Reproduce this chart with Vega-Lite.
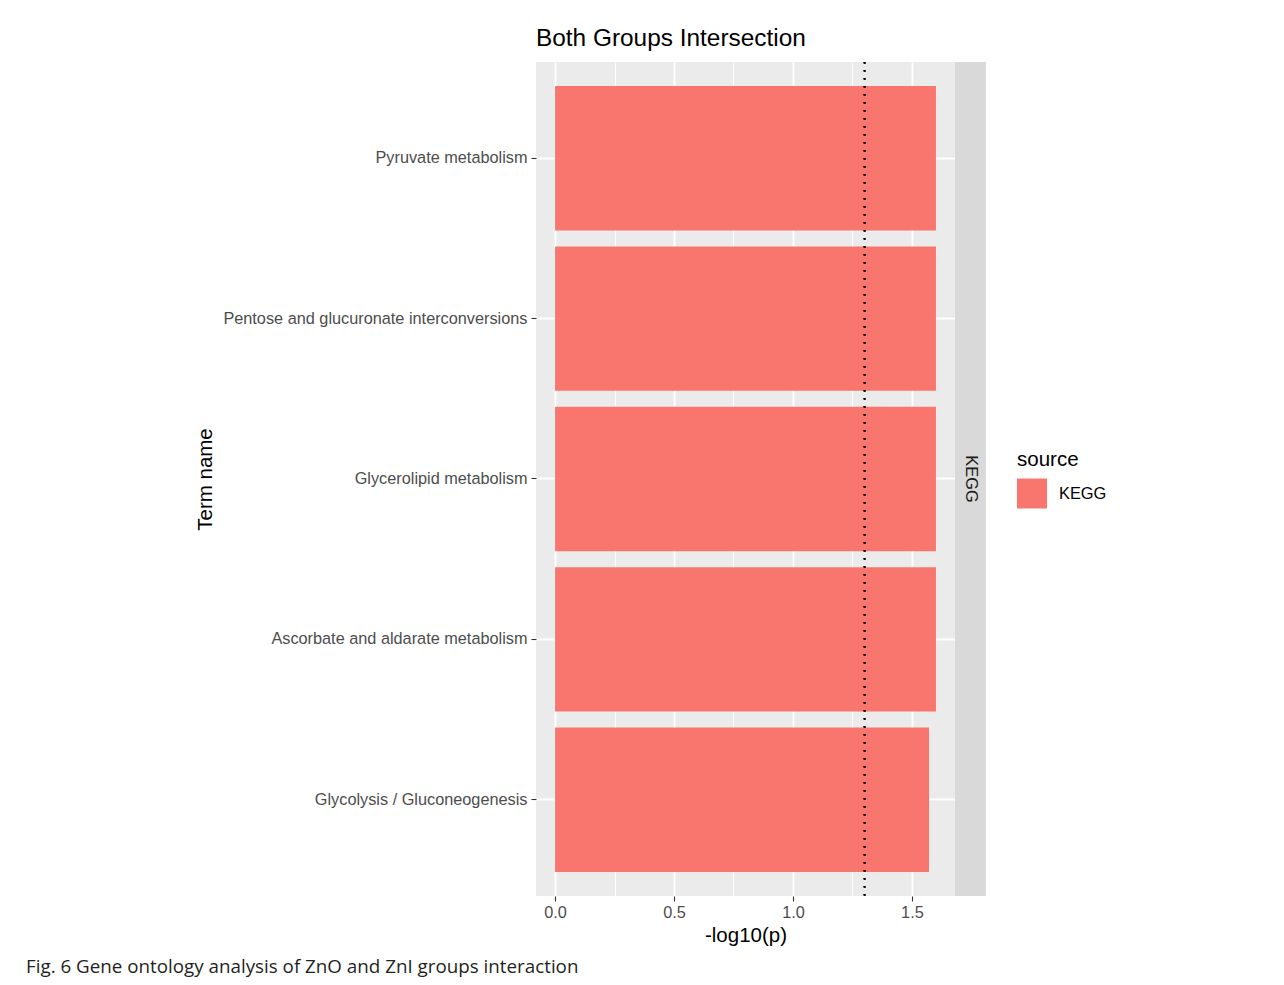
{
  "$schema": "https://vega.github.io/schema/vega-lite/v6.json",
  "padding": {"left": 26, "top": 25, "right": 5, "bottom": 5},
  "background": "white",
  "datasets": {
    "terms": [
      {"term": "Pyruvate metabolism", "logp": 1.601, "source": "KEGG"},
      {"term": "Pentose and glucuronate interconversions", "logp": 1.601, "source": "KEGG"},
      {"term": "Glycerolipid metabolism", "logp": 1.601, "source": "KEGG"},
      {"term": "Ascorbate and aldarate metabolism", "logp": 1.601, "source": "KEGG"},
      {"term": "Glycolysis / Gluconeogenesis", "logp": 1.572, "source": "KEGG"}
    ],
    "strip": [{"source": "KEGG"}]
  },
  "title": {
    "text": "Fig. 6  Gene ontology analysis of ZnO and ZnI groups interaction",
    "orient": "bottom",
    "anchor": "start",
    "frame": "bounds",
    "dx": -169,
    "offset": 12,
    "font": "Open Sans",
    "fontSize": 18.8,
    "fontWeight": "normal",
    "color": "#231F20"
  },
  "spacing": 0,
  "resolve": {"scale": {"color": "shared"}, "legend": {"color": "shared"}},
  "hconcat": [
    {
      "width": 419,
      "height": 834,
      "title": {
        "text": "Both Groups Intersection",
        "anchor": "start",
        "frame": "group",
        "fontSize": 24.4,
        "fontWeight": "normal",
        "font": "Liberation Sans",
        "color": "#000000",
        "offset": 10
      },
      "view": {"fill": "#EBEBEB", "stroke": null},
      "data": {"name": "terms"},
      "layer": [
        {
          "mark": {"type": "bar"},
          "encoding": {
            "y": {
              "field": "term",
              "type": "nominal",
              "sort": null,
              "title": "Term name",
              "scale": {"paddingInner": 0.1, "paddingOuter": 0.15},
              "axis": {
                "grid": true,
                "bandPosition": 0.5,
                "gridColor": "#FFFFFF",
                "gridWidth": 1.8,
                "domain": false,
                "tickColor": "#333333",
                "tickSize": 5,
                "tickWidth": 1.1,
                "labelColor": "#4D4D4D",
                "labelFontSize": 16.3,
                "labelFont": "Liberation Sans",
                "labelLimit": 600,
                "labelPadding": 4,
                "titleFont": "Liberation Sans",
                "titleFontSize": 20.5,
                "titleFontWeight": "normal",
                "titleColor": "#000000",
                "titleX": -321,
                "titlePadding": 8
              }
            },
            "x": {
              "field": "logp",
              "type": "quantitative",
              "title": "-log10(p)",
              "scale": {"domain": [-0.0801, 1.6811], "nice": false, "zero": false},
              "axis": {
                "values": [0, 0.5, 1, 1.5],
                "format": ".1f",
                "grid": true,
                "gridColor": "#FFFFFF",
                "gridWidth": 1.8,
                "domain": false,
                "tickColor": "#333333",
                "tickSize": 5,
                "tickWidth": 1.1,
                "labelColor": "#4D4D4D",
                "labelFontSize": 16.3,
                "labelFont": "Liberation Sans",
                "labelPadding": 3,
                "titleFont": "Liberation Sans",
                "titleFontSize": 20.5,
                "titleFontWeight": "normal",
                "titleColor": "#000000",
                "titlePadding": 5
              }
            },
            "color": {
              "field": "source",
              "type": "nominal",
              "scale": {"range": ["#F8766D"]},
              "legend": {
                "title": "source",
                "orient": "none",
                "legendX": 481,
                "legendY": 388,
                "titleFont": "Liberation Sans",
                "titleFontSize": 20.5,
                "titleFontWeight": "normal",
                "titleColor": "#000000",
                "titlePadding": 8,
                "labelFont": "Liberation Sans",
                "labelFontSize": 16.4,
                "labelColor": "#000000",
                "labelOffset": 12,
                "symbolType": "square",
                "symbolSize": 900,
                "symbolStrokeWidth": 0,
                "symbolOpacity": 1
              }
            }
          }
        },
        {
          "mark": {"type": "rule", "color": "#000000", "strokeWidth": 1.6, "strokeDash": [1.6, 6.4]},
          "encoding": {
            "x": {
              "datum": 1.30103,
              "type": "quantitative",
              "axis": {
                "values": [0.25, 0.75, 1.25],
                "grid": true,
                "gridColor": "#FFFFFF",
                "gridWidth": 0.9,
                "labels": false,
                "ticks": false,
                "domain": false,
                "title": null
              }
            }
          }
        }
      ],
      "resolve": {"axis": {"x": "independent"}}
    },
    {
      "width": 31,
      "height": 834,
      "view": {"fill": "#D9D9D9", "stroke": null},
      "data": {"name": "strip"},
      "mark": {"type": "text", "angle": 90, "font": "Liberation Sans", "fontSize": 16.4, "color": "#1A1A1A", "align": "center", "baseline": "middle"},
      "encoding": {
        "text": {"field": "source", "type": "nominal"}
      }
    }
  ]
}
